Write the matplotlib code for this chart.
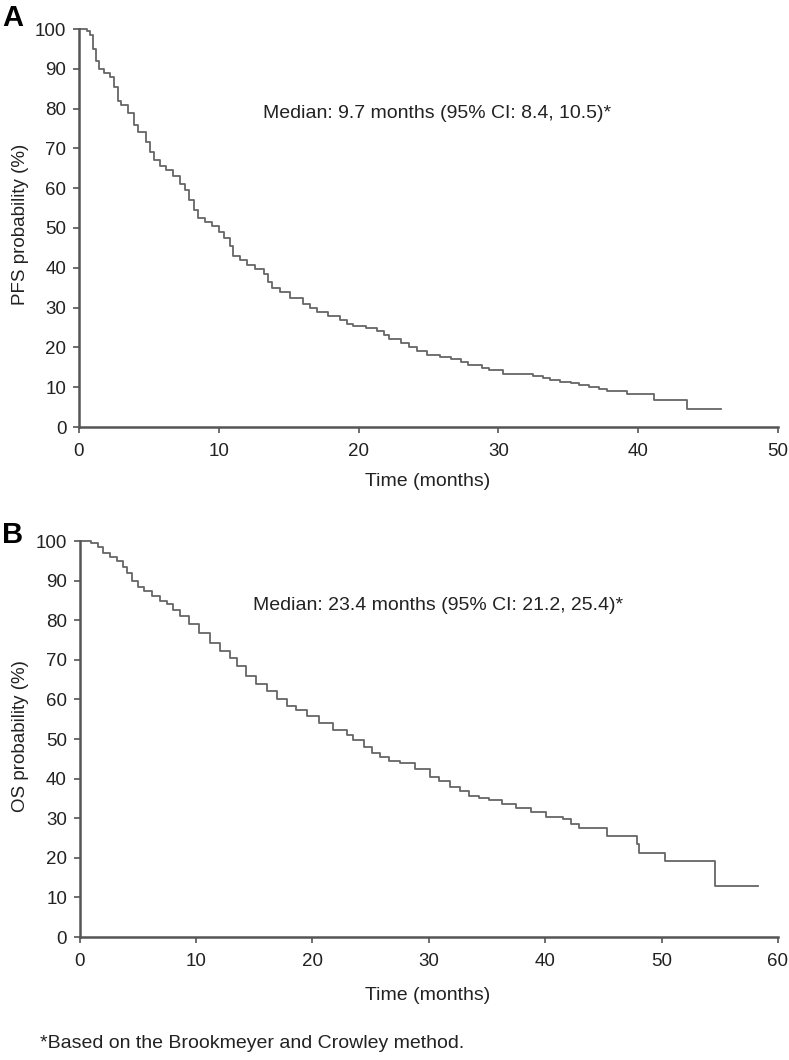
import matplotlib
matplotlib.use("Agg")
import matplotlib.pyplot as plt

plt.rcParams['font.family'] = ['Liberation Sans', 'DejaVu Sans']

# PFS curve (panel A)
pfs_t = [0, 0.6, 0.8, 1.0, 1.2, 1.4, 1.8, 2.2, 2.5, 2.8, 3.0, 3.5, 3.9, 4.2, 4.8,
         5.1, 5.4, 5.8, 6.2, 6.7, 7.2, 7.6, 7.9, 8.2, 8.5, 9.0, 9.5, 10.0, 10.4,
         10.8, 11.0, 11.5, 12.0, 12.6, 13.2, 13.5, 13.8, 14.4, 15.1, 16.0, 16.5,
         17.0, 17.8, 18.7, 19.2, 19.6, 20.5, 21.3, 21.8, 22.2, 23.0, 23.6, 24.2,
         24.9, 25.8, 26.6, 27.3, 27.8, 28.8, 29.3, 30.3, 31.5, 32.5, 33.2, 33.7,
         34.4, 35.2, 35.8, 36.5, 37.2, 37.8, 39.2, 41.1, 43.5, 45.9]
pfs_s = [100, 99.5, 98.5, 95, 92, 90, 89, 88, 85.5, 82, 81, 79, 76, 74, 71.5,
         69, 67, 65.5, 64.5, 63, 61, 59.5, 57, 54.5, 52.5, 51.5, 50.5, 49, 47.5,
         45.5, 43, 42, 40.8, 39.7, 38.5, 36.5, 35, 34, 32.5, 31, 30,
         29, 28, 27, 26, 25.5, 24.8, 24, 23, 22, 21.2, 20.2, 19.2,
         18.2, 17.6, 17, 16.4, 15.5, 14.8, 14.2, 13.3, 13.2, 12.8, 12.2, 11.7,
         11.4, 11.0, 10.6, 10.0, 9.5, 9.1, 8.3, 6.8, 4.5, 4.5]

# OS curve (panel B)
os_t = [0, 1.0, 1.6, 2.0, 2.6, 3.2, 3.7, 4.1, 4.5, 5.0, 5.5, 6.2, 6.9, 7.5, 8.0,
        8.6, 9.4, 10.3, 11.2, 12.1, 12.9, 13.5, 14.3, 15.2, 16.1, 17.0, 17.8,
        18.6, 19.5, 20.6, 21.8, 23.0, 23.5, 24.4, 25.1, 25.8, 26.6, 27.5, 28.8,
        30.1, 30.9, 31.8, 32.7, 33.5, 34.3, 35.2, 36.3, 37.5, 38.8, 40.1, 41.5,
        42.2, 42.9, 45.3, 47.9, 48.1, 50.3, 54.6, 58.3]
os_s = [100, 99.5, 98.5, 97, 96, 95, 93.5, 92, 90, 88.5, 87.3, 86, 84.8, 84, 82.5,
        81, 79, 76.7, 74.3, 72.1, 70.5, 68.5, 65.8, 64, 62, 60, 58.3,
        57.3, 55.7, 54, 52.3, 51, 49.8, 48, 46.5, 45.4, 44.5, 43.9, 42.3,
        40.5, 39.3, 38, 36.8, 35.6, 35.1, 34.6, 33.7, 32.7, 31.5, 30.2, 29.7,
        28.5, 27.4, 25.5, 23.5, 21.1, 19.2, 12.9, 12.9]

pfs_ticks_x = [0, 10, 20, 30, 40, 50]
os_ticks_x = [0, 10, 20, 30, 40, 50, 60]
y_ticks = [0, 10, 20, 30, 40, 50, 60, 70, 80, 90, 100]

W, H = 789, 1060
fig = plt.figure(figsize=(W / 100, H / 100), dpi=100)

axis_col = '#555555'
curve_col = '#666666'
text_col = '#222222'


def px(x, y):
    # pixel position -> figure fraction
    return x / W, 1 - y / H


def style_axes(ax, xmax, xticks):
    ax.set_xlim(0, xmax)
    ax.set_ylim(0, 100)
    ax.set_xticks(xticks)
    ax.set_yticks(y_ticks)
    for side in ['top', 'right']:
        ax.spines[side].set_visible(False)
    for side in ['left', 'bottom']:
        ax.spines[side].set_color(axis_col)
        ax.spines[side].set_linewidth(1.8)
    ax.tick_params(direction='out', length=4.5, width=1.2, color=axis_col,
                   labelsize=13.5, labelcolor=text_col)
    ax.tick_params(axis='x', pad=7)
    ax.tick_params(axis='y', pad=4.5)
    ax.patch.set_alpha(0)


# Panel A
axA = fig.add_axes([79 / W, 1 - 427 / H, (778 - 79) / W, (427 - 29) / H])
axA.step(pfs_t, pfs_s, where='post', color=curve_col, lw=1.3, clip_on=False)
style_axes(axA, 50, pfs_ticks_x)
fig.text(*px(428, 482), 'Time (months)', ha='center', va='center',
         fontsize=14, color=text_col)
fig.text(*px(21, 224), 'PFS probability (%)', ha='center', va='center',
         rotation=90, fontsize=13.5, color=text_col)
fig.text(*px(437, 114), 'Median: 9.7 months (95% CI: 8.4, 10.5)*',
         ha='center', va='center', fontsize=14, color=text_col)
fig.text(*px(2, 18), 'A', fontsize=21, fontweight='bold', va='center')

# Panel B
axB = fig.add_axes([79.5 / W, 1 - 937 / H, (778 - 79.5) / W, (937 - 541) / H])
axB.step(os_t, os_s, where='post', color=curve_col, lw=1.3, clip_on=False)
style_axes(axB, 60, os_ticks_x)
fig.text(*px(428, 996), 'Time (months)', ha='center', va='center',
         fontsize=14, color=text_col)
fig.text(*px(21, 736), 'OS probability (%)', ha='center', va='center',
         rotation=90, fontsize=13.5, color=text_col)
fig.text(*px(438, 605), 'Median: 23.4 months (95% CI: 21.2, 25.4)*',
         ha='center', va='center', fontsize=14, color=text_col)
fig.text(*px(2, 535), 'B', fontsize=21, fontweight='bold', va='center')

fig.text(*px(40, 1044), '*Based on the Brookmeyer and Crowley method.',
         ha='left', va='center', fontsize=14, color=text_col)

fig.savefig('out.png', dpi=100)
